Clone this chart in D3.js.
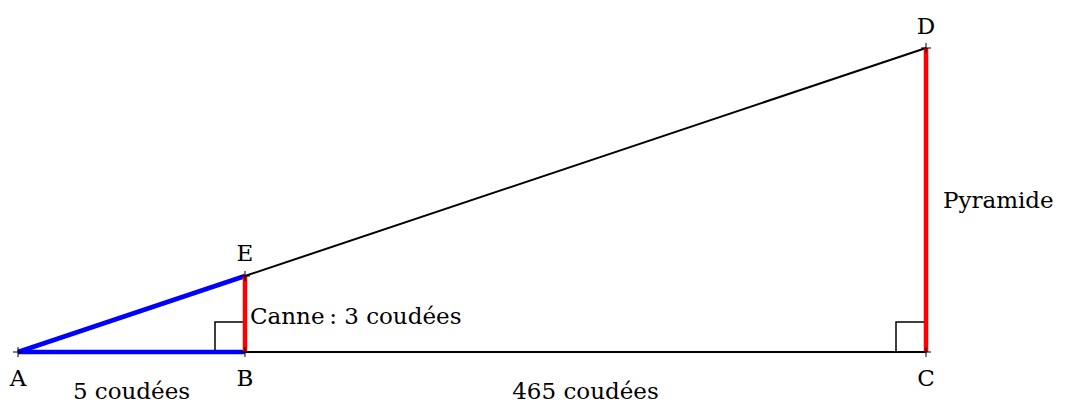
<!DOCTYPE html>
<html>
<head>
<meta charset="utf-8">
<script src="https://cdn.jsdelivr.net/npm/d3@7"></script>
<style>
  body { margin: 0; background: #fff; }
  text { font-family: "DejaVu Serif", serif; font-size: 23px; fill: #000; }
</style>
</head>
<body>
<script>
let width = 1068
let height = 403

// points in figure units (schematic, not to scale)
let pointNames = ["A", "B", "C", "D", "E"]
let pointX = [0, 1, 4, 4, 1]
let pointY = [0, 0, 0, 4, 1]

// segments: [from, to, colour, width]
let segFrom = ["A", "A", "B", "E", "B", "C"]
let segTo = ["E", "B", "C", "D", "E", "D"]
let segColor = ["blue", "blue", "black", "black", "red", "red"]
let segWidth = [4.5, 4.5, 2, 2, 4.5, 4.5]

// label offsets (in px) for point names
let labelDx = [0, 0, 0, 0, 0]
let labelDy = [34, 34, 34, -14, -15]

let lengthLabels = ["5 coudées", "465 coudées", "Canne\u2009: 3 coudées", "Pyramide"]

let x = d3.scaleLinear().domain([0, 4]).range([18, 926])
let y = d3.scaleLinear().domain([0, 4]).range([352, 48])

let pts = {}
pointNames.forEach((n, i) => pts[n] = { x: pointX[i], y: pointY[i] })

let svg = d3.select("body").append("svg")
    .attr("width", width)
    .attr("height", height)

let segs = segFrom.map((f, i) => ({ a: pts[f], b: pts[segTo[i]], color: segColor[i], w: segWidth[i] }))

// right angle marks
let sq = 30
svg.selectAll(".ra").data(["B", "C"]).enter().append("path")
    .attr("class", "ra")
    .attr("d", d => {
        let px = x(pts[d].x), py = y(pts[d].y)
        return "M" + (px - sq) + "," + py + "V" + (py - sq) + "H" + px
    })
    .attr("fill", "none")
    .attr("stroke", "black")
    .attr("stroke-width", 1.5)

// black ones first, coloured on top
let order = segs.slice().sort((p, q) => (p.color === "black" ? 0 : 1) - (q.color === "black" ? 0 : 1))
svg.selectAll(".seg").data(order).enter().append("line")
    .attr("class", "seg")
    .attr("x1", d => x(d.a.x))
    .attr("y1", d => y(d.a.y))
    .attr("x2", d => x(d.b.x))
    .attr("y2", d => y(d.b.y))
    .attr("stroke", d => d.color)
    .attr("stroke-width", d => d.w)

// little crosses on the points
let cr = 5
svg.selectAll(".cross").data(pointNames).enter().append("path")
    .attr("class", "cross")
    .attr("d", d => {
        let px = x(pts[d].x), py = y(pts[d].y)
        return "M" + (px - cr) + "," + py + "H" + (px + cr) + "M" + px + "," + (py - cr) + "V" + (py + cr)
    })
    .attr("stroke", "black")
    .attr("stroke-width", 1)

svg.selectAll(".pname").data(pointNames).enter().append("text")
    .attr("class", "pname")
    .attr("x", (d, i) => x(pts[d].x) + labelDx[i])
    .attr("y", (d, i) => y(pts[d].y) + labelDy[i])
    .attr("text-anchor", "middle")
    .text(d => d)

svg.append("text")
    .attr("x", (x(pts.A.x) + x(pts.B.x)) / 2)
    .attr("y", y(0) + 47)
    .attr("text-anchor", "middle")
    .text(lengthLabels[0])

svg.append("text")
    .attr("x", (x(pts.B.x) + x(pts.C.x)) / 2)
    .attr("y", y(0) + 47)
    .attr("text-anchor", "middle")
    .text(lengthLabels[1])

svg.append("text")
    .attr("x", x(pts.B.x) + 5)
    .attr("y", y(0.37))
    .text(lengthLabels[2])

svg.append("text")
    .attr("x", x(pts.C.x) + 17)
    .attr("y", y(1.9))
    .text(lengthLabels[3])
</script>
</body>
</html>
